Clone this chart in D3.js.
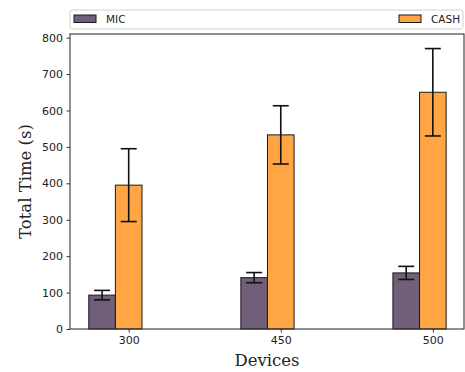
<!DOCTYPE html>
<html>
<head>
<meta charset="utf-8">
<script src="https://cdn.jsdelivr.net/npm/d3@7"></script>
<style>
  body { margin: 0; background: #fff; }
  svg { display: block; }
  .tick text { font-family: "DejaVu Sans", sans-serif; font-size: 11px; fill: #222; }
</style>
</head>
<body>
<div id="chart"></div>
<script>
"use strict";

const categories = ["300", "450", "500"];
const seriesNames = ["MIC", "CASH"];
const micMean = [93, 141, 154];
const micErr = [13, 14, 18];
const cashMean = [395, 533, 650];
const cashErr = [100, 80, 120];
const yTicks = [0, 100, 200, 300, 400, 500, 600, 700, 800];
const colors = ["#715e78", "#ffa544"];

const W = 465, H = 372;
const margin = { left: 70, right: 1, top: 34, bottom: 43 };
const barWidth = 0.175;

const svg = d3.select("#chart").append("svg").attr("width", W).attr("height", H);

const x = d3.scaleLinear().domain([-0.386, 2.205]).range([margin.left, W - margin.right]);
const y = d3.scaleLinear().domain([0, 810]).range([H - margin.bottom, margin.top]);

const series = [
    { name: seriesNames[0], mean: micMean, err: micErr, offset: -barWidth, color: colors[0] },
    { name: seriesNames[1], mean: cashMean, err: cashErr, offset: 0, color: colors[1] },
];

// bars
series.forEach(s => {
    const g = svg.append("g");
    g.selectAll("rect").data(s.mean).enter().append("rect")
        .attr("x", (d, i) => x(i + s.offset - barWidth / 2))
        .attr("width", x(barWidth) - x(0))
        .attr("y", d => y(d))
        .attr("height", d => y(0) - y(d))
        .attr("fill", s.color)
        .attr("stroke", "#1a1a1a")
        .attr("stroke-width", 1);
});

// error bars
series.forEach(s => {
    const g = svg.append("g").attr("stroke", "#111").attr("stroke-width", 1.6);
    s.mean.forEach((m, i) => {
        const cx = x(i + s.offset);
        const lo = y(m - s.err[i]), hi = y(m + s.err[i]);
        g.append("line").attr("x1", cx).attr("x2", cx).attr("y1", lo).attr("y2", hi);
        g.append("line").attr("x1", cx - 8).attr("x2", cx + 8).attr("y1", lo).attr("y2", lo);
        g.append("line").attr("x1", cx - 8).attr("x2", cx + 8).attr("y1", hi).attr("y2", hi);
    });
});

// frame
svg.append("rect")
    .attr("x", margin.left).attr("y", margin.top)
    .attr("width", W - margin.right - margin.left)
    .attr("height", H - margin.bottom - margin.top)
    .attr("fill", "none").attr("stroke", "#333").attr("stroke-width", 1.1);

// axes
const xAxis = svg.append("g")
    .attr("transform", `translate(0,${H - margin.bottom})`)
    .call(d3.axisBottom(x).tickValues([0, 1, 2]).tickFormat(i => categories[i]).tickSize(3.5).tickPadding(3.5));
xAxis.select(".domain").remove();
xAxis.selectAll(".tick line").attr("stroke", "#333");

const yAxis = svg.append("g")
    .attr("transform", `translate(${margin.left},0)`)
    .call(d3.axisLeft(y).tickValues(yTicks).tickSize(3.5).tickPadding(3.5));
yAxis.select(".domain").remove();
yAxis.selectAll(".tick line").attr("stroke", "#333");

svg.append("text")
    .attr("x", (margin.left + W - margin.right) / 2)
    .attr("y", 366)
    .attr("text-anchor", "middle")
    .style("font-family", "'DejaVu Serif', serif")
    .style("font-size", "16.5px")
    .attr("fill", "#222")
    .text("Devices");

svg.append("text")
    .attr("transform", `translate(31,${(margin.top + H - margin.bottom) / 2}) rotate(-90)`)
    .attr("text-anchor", "middle")
    .style("font-family", "'DejaVu Serif', serif")
    .style("font-size", "16.5px")
    .attr("fill", "#222")
    .text("Total Time (s)");

// legend
const legend = svg.append("g");
legend.append("rect")
    .attr("x", margin.left).attr("y", 10)
    .attr("width", W - margin.right - margin.left - 1).attr("height", 19)
    .attr("rx", 2.5)
    .attr("fill", "#fff").attr("stroke", "#d0d0d0").attr("stroke-width", 1);

const legendItems = [
    { name: seriesNames[0], color: colors[0], x: 74 },
    { name: seriesNames[1], color: colors[1], x: 399 },
];
legendItems.forEach(it => {
    legend.append("rect")
        .attr("x", it.x).attr("y", 15).attr("width", 22).attr("height", 7.5)
        .attr("fill", it.color).attr("stroke", "#1a1a1a").attr("stroke-width", 1);
    legend.append("text")
        .attr("x", it.x + 32).attr("y", 23)
        .style("font-family", "'DejaVu Sans', sans-serif")
        .style("font-size", "10.5px")
        .attr("fill", "#222")
        .text(it.name);
});
</script>
</body>
</html>
